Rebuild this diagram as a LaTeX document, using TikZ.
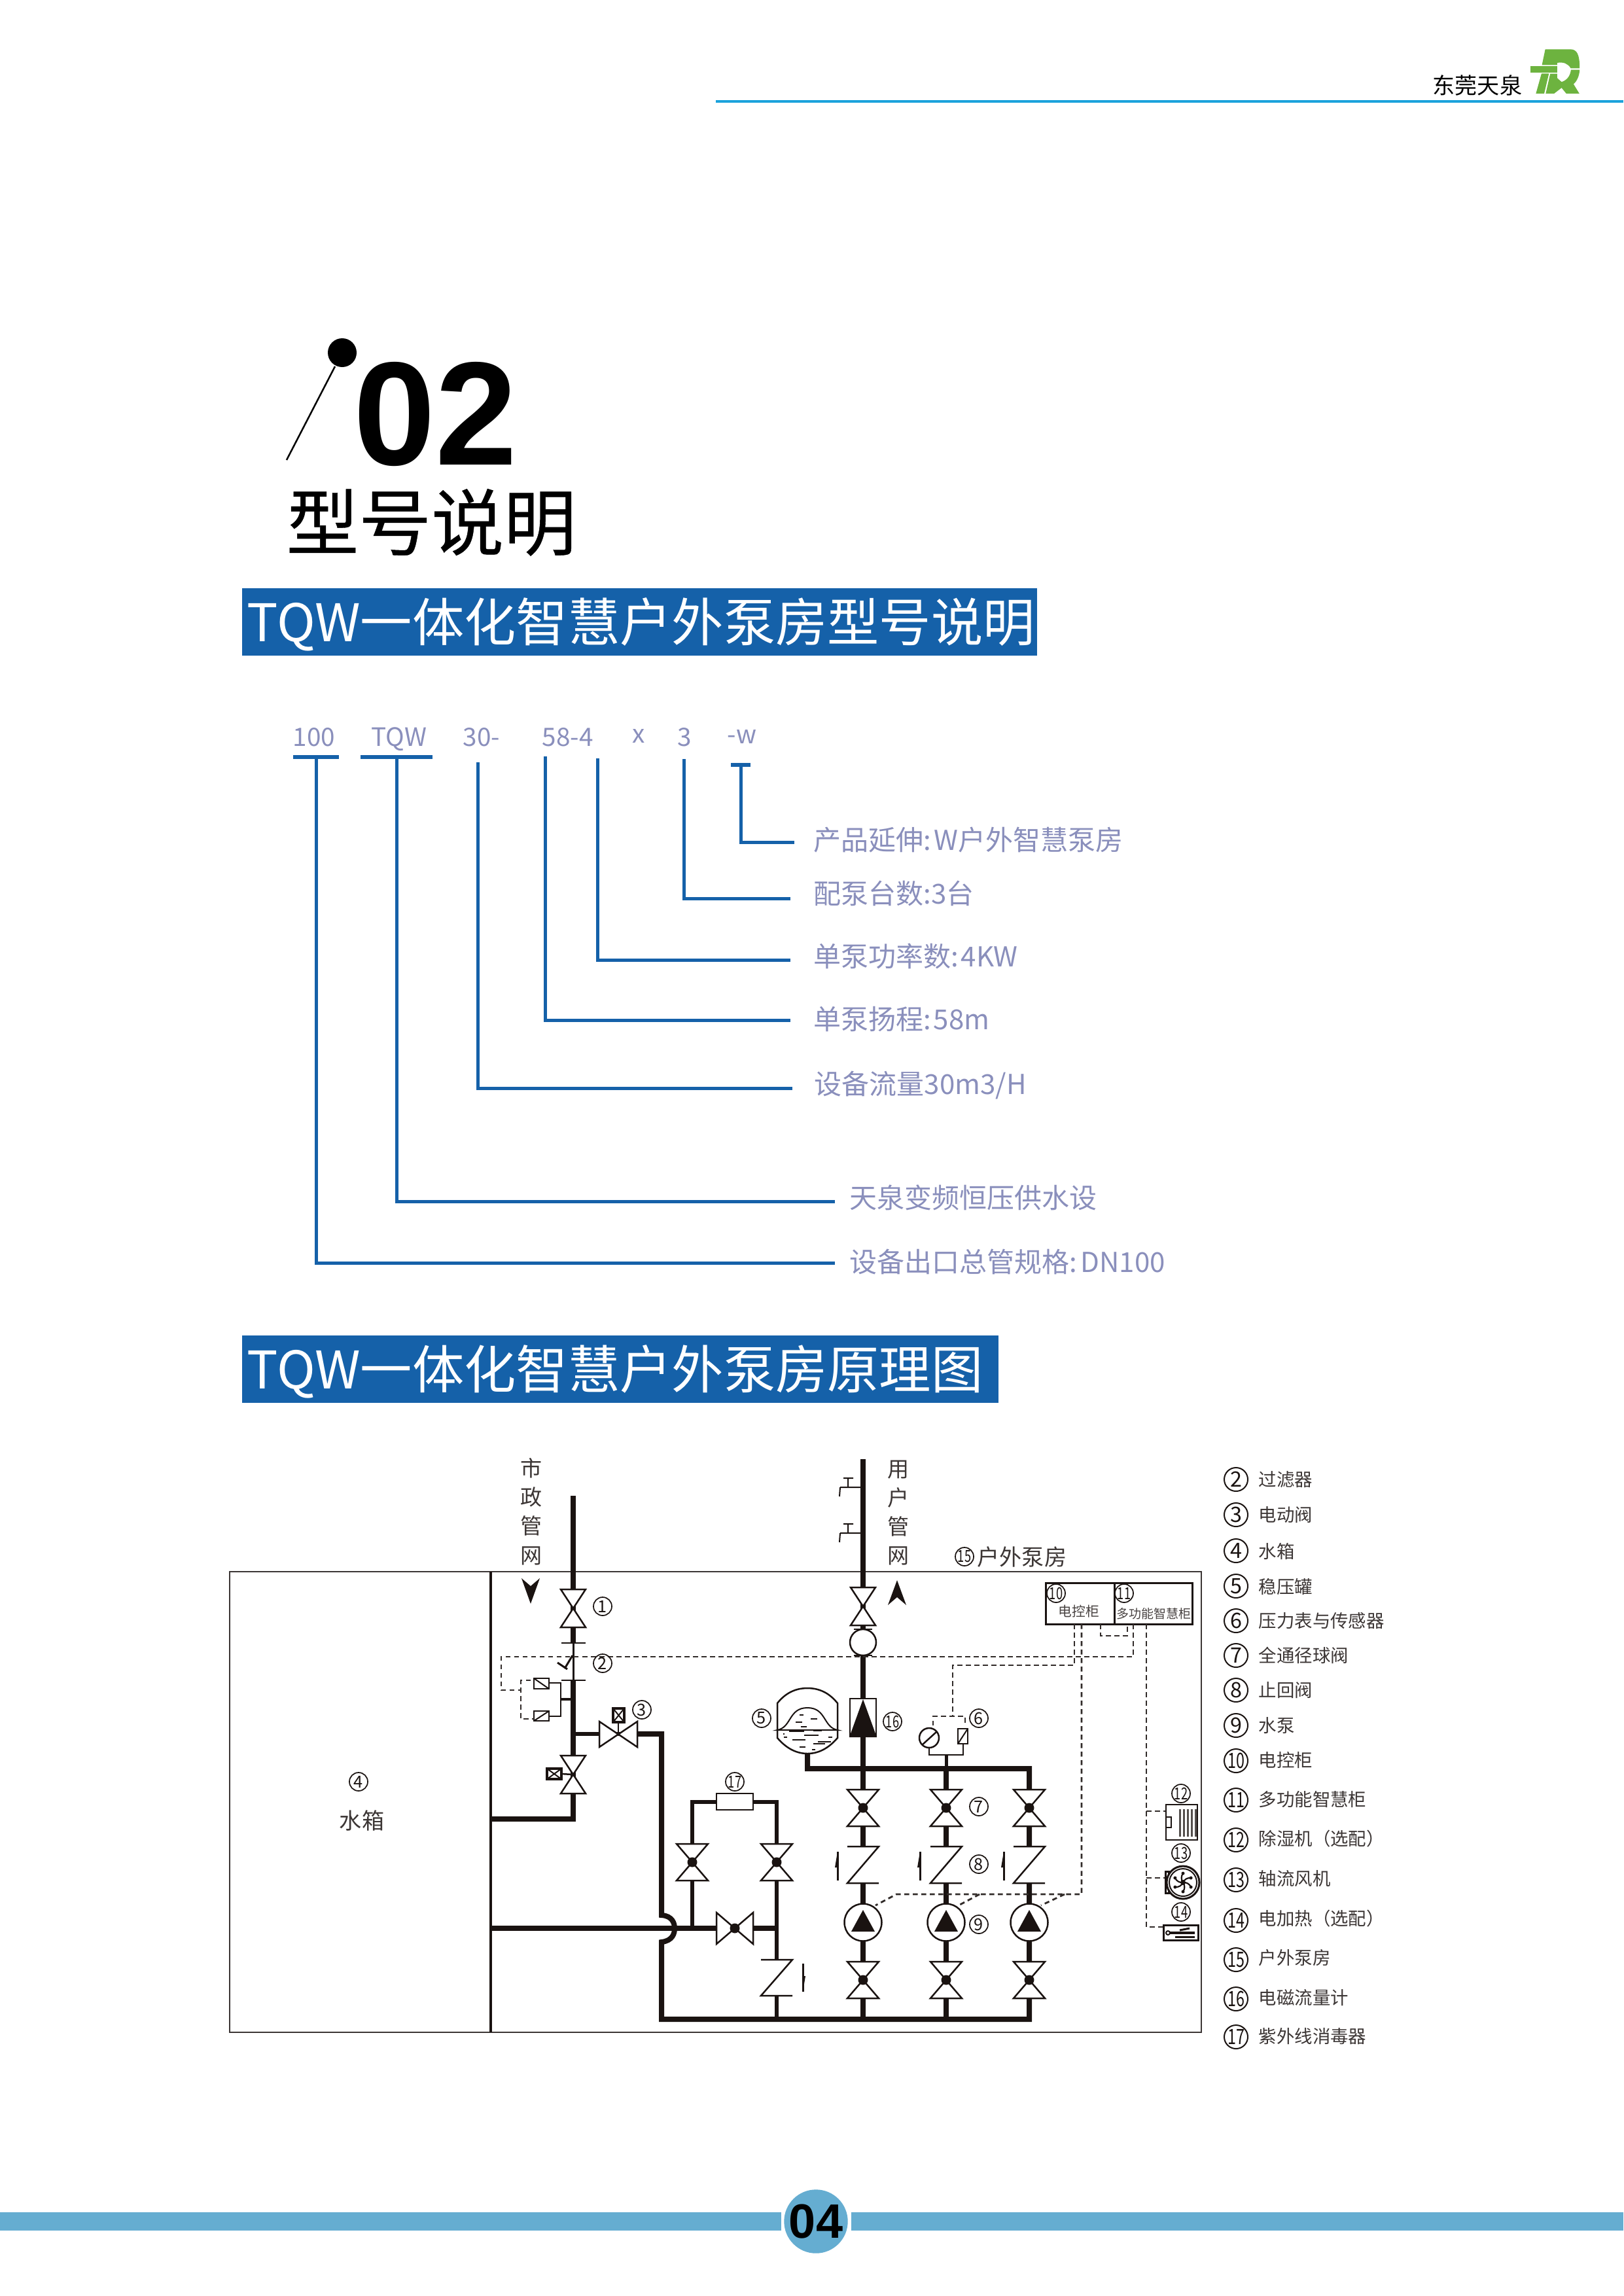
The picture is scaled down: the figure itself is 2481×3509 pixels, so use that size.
\documentclass[tikz,border=0pt]{standalone}
\usepackage{fontspec}
\usepackage{graphicx}
\setmainfont{Noto Sans CJK SC}
\newfontfamily\chapfont[FakeBold=0.4]{Noto Sans CJK SC}
\newfontfamily\pagefont{Liberation Sans}
\usetikzlibrary{calc}
\definecolor{bannerblue}{HTML}{1561A9}
\definecolor{labelpurple}{HTML}{8A8FBC}
\definecolor{headcyan}{HTML}{1BA2DC}
\definecolor{footblue}{HTML}{65ADD1}
\definecolor{logogreen}{HTML}{6DB33F}
\definecolor{pipeblack}{HTML}{1A1311}
\tikzset{
	bannertext/.style={anchor=base west, inner sep=0pt, text=white, font=\fontsize{22.55pt}{26pt}\selectfont},
	modeltop/.style={anchor=base west, inner sep=0pt, text=labelpurple, font=\fontsize{11pt}{13pt}\selectfont},
	modeltext/.style={anchor=base west, inner sep=0pt, text=labelpurple, font=\fontsize{11.95pt}{14pt}\selectfont},
	modelline/.style={color=bannerblue, line width=0.5mm},
	modelbar/.style={color=bannerblue, line width=0.65mm},
	frameline/.style={color=pipeblack!85, line width=0.27mm},
	pipe/.style={color=pipeblack, line width=0.8mm},
	thinpipe/.style={color=pipeblack, line width=0.55mm},
	valveline/.style={color=pipeblack, fill=white, line width=0.25mm},
	ctrlline/.style={color=pipeblack!90, line width=0.28mm, dash pattern=on 0.75mm off 0.55mm},
	numtag/.style={circle, draw=pipeblack, line width=0.17mm, minimum size=0.28cm, inner sep=0pt, text=pipeblack, font=\fontsize{7.2pt}{8pt}\selectfont},
	legendtag/.style={circle, draw=pipeblack, line width=0.2mm, minimum size=0.36cm, inner sep=0pt, text=pipeblack, font=\fontsize{9.2pt}{10pt}\selectfont},
	legendtext/.style={anchor=base west, inner sep=0pt, text=pipeblack!85, font=\fontsize{7.8pt}{9pt}\selectfont},
	pipetext/.style={align=center, inner sep=0pt, text=pipeblack!85, font=\fontsize{9.4pt}{12.6pt}\selectfont}
}
\def\nn#1{\scalebox{0.72}[1]{#1}}
\def\ballvalve(#1,#2){\draw[valveline] (#1-24,#2-28) -- (#1+24,#2-28) -- (#1-24,#2+28) -- (#1+24,#2+28) -- cycle; \fill[pipeblack] (#1,#2) circle (7.5);}
\def\sideball(#1,#2){\draw[valveline] (#1-28,#2-24) -- (#1-28,#2+24) -- (#1+28,#2-24) -- (#1+28,#2+24) -- cycle; \fill[pipeblack] (#1,#2) circle (7.5);}
\def\gatevalve(#1,#2){\draw[valveline] (#1-19,#2-29) -- (#1+19,#2-29) -- (#1-19,#2+29) -- (#1+19,#2+29) -- cycle;}
\def\checkvalve(#1,#2,#3){\fill[white] (#1-24,#2) rectangle (#1+24,#3); \draw[valveline, fill=none] (#1-24,#2) -- (#1+24,#2) -- (#1-24,#3) -- (#1+24,#3);}
\def\pumpunit(#1,#2){\draw[valveline] (#1,#2) circle (28.5); \fill[pipeblack] (#1,#2-19) -- (#1+18,#2+14) -- (#1-18,#2+14) -- cycle;}
\def\flowup(#1,#2,#3){\draw[color=pipeblack, line width=0.3mm] (#1,#2) -- (#1,#3); \fill[pipeblack] (#1,#2) -- (#1-4,#2+24) -- (#1,#2+24) -- cycle;}
\def\actbox(#1,#2)(#3,#4){\draw[color=pipeblack, fill=white, line width=0.35mm] (#1,#2) rectangle (#3,#4); \draw[color=pipeblack, line width=0.2mm] (#1,#2) -- (#3,#4) (#1,#4) -- (#3,#2);}

\begin{document}
\begin{tikzpicture}[x=0.01cm,y=-0.01cm]
	%%%%% START %%%%%
	\useasboundingbox (0,0) rectangle (2481,3509);
	
	% page head
	\draw[color=headcyan, line width=0.45mm] (1094,155) -- (2481,155);
	\node[inner sep=0pt, anchor=base west, text=black, font=\fontsize{9.7pt}{11pt}\selectfont] (headname) at (2189,144) {东莞天泉};
	\begin{scope}[shift={(2330,66)}, x=0.00333cm, y=-0.00333cm]
		\fill[logogreen] (28,105) -- (150,105) -- (150,135) -- (28,135) -- cycle;
		\fill[logogreen] (95,28) -- (210,28) .. controls (240,28) and (253,50) .. (253,115) -- (212,115) .. controls (200,95) and (180,85) .. (150,90) -- (150,100) -- (80,100) -- cycle;
		\fill[logogreen] (78,139) -- (112,139) -- (90,232) -- (52,232) -- cycle;
		\fill[logogreen] (118,140) -- (150,140) -- (150,160) -- (170,178) .. controls (195,170) and (210,150) .. (213,122) -- (253,122) .. controls (252,150) and (240,175) .. (225,188) -- (252,232) -- (192,232) -- (170,205) -- (135,232) -- (97,232) -- cycle;
	\end{scope}
	
	% chapter mark
	\fill[black] (523,539) circle (22);
	\draw[color=black, line width=0.25mm] (438,703) -- (512,560);
	\node[anchor=base west, inner sep=0pt, font=\pagefont\bfseries\fontsize{64pt}{70pt}\selectfont] (chapnum) at (540,710) {02};
	\node[anchor=base west, inner sep=0pt, font=\chapfont\fontsize{31.5pt}{34pt}\selectfont] (chaptitle) at (437,840) {型号说明};
	
	% model code
	\fill[bannerblue] (370,899) rectangle (1585,1002);
	\node[bannertext] (banner1) at (377,980) {TQW一体化智慧户外泵房型号说明};
	
	\node[modeltop] (c100) at (447,1140) {100};
	\node[modeltop] (ctqw) at (567,1140) {TQW};
	\node[modeltop] (c30) at (707,1140) {30-};
	\node[modeltop] (c58) at (828,1140) {58-4};
	\node[modeltop] (cx) at (966,1135) {x};
	\node[modeltop] (c3) at (1035,1140) {3};
	\node[modeltop] (cw) at (1111,1136) {-w};
	
	\node[modeltext] (t1) at (1243,1299) {产品延伸:\hspace{0.09em}W户外智慧泵房};
	\node[modeltext] (t2) at (1243,1381) {配泵台数:3台};
	\node[modeltext] (t3) at (1243,1477) {单泵功率数:\hspace{0.08em}4KW};
	\node[modeltext] (t4) at (1243,1573) {单泵扬程:\hspace{0.08em}58m};
	\node[modeltext] (t5) at (1244,1672) {设备流量30m3/H};
	\node[modeltext] (t6) at (1298,1846) {天泉变频恒压供水设};
	\node[modeltext] (t7) at (1298,1944) {设备出口总管规格:\hspace{0.12em}DN100};
	
	\coordinate (b1) at (1132,1169);
	\coordinate (e1) at (1214,1287);
	\coordinate (b2) at (1045,1160);
	\coordinate (e2) at (1208,1373);
	\coordinate (b3) at (913,1159);
	\coordinate (e3) at (1208,1467);
	\coordinate (b4) at (833,1156);
	\coordinate (e4) at (1208,1559);
	\coordinate (b5) at (730,1165);
	\coordinate (e5) at (1211,1663);
	\coordinate (b6) at (606,1157);
	\coordinate (e6) at (1276,1836);
	\coordinate (b7) at (483,1157);
	\coordinate (e7) at (1276,1930);
	\draw[modelbar] (1117,1169) -- (1147,1169);
	\draw[modelbar] (551,1157) -- (661,1157);
	\draw[modelbar] (448,1157) -- (518,1157);
	\draw[modelline] (b1) |- (e1);
	\draw[modelline] (b2) |- (e2);
	\draw[modelline] (b3) |- (e3);
	\draw[modelline] (b4) |- (e4);
	\draw[modelline] (b5) |- (e5);
	\draw[modelline] (b6) |- (e6);
	\draw[modelline] (b7) |- (e7);
	
	% pump room diagram
	\fill[bannerblue] (370,2041) rectangle (1526,2144);
	\node[bannertext] (banner2) at (377,2122) {TQW一体化智慧户外泵房原理图};
	
	\draw[frameline] (351,2402) rectangle (1836,3106);
	\draw[color=pipeblack, line width=0.35mm] (750,2402) -- (750,3106);
	
	% pipes
	\draw[pipe] (876,2286) -- (876,2511);
	\draw[color=pipeblack, line width=0.3mm] (876,2511) -- (876,2568);
	\draw[pipe] (876,2568) -- (876,2780) -- (750,2780);
	\draw[thinpipe] (876,2650) -- (974,2650);
	\draw[pipe] (974,2650) -- (1011,2650) -- (1011,2927) .. controls (1028,2928) and (1031,2940) .. (1031,2947) .. controls (1031,2955) and (1028,2966) .. (1011,2968) -- (1011,3086) -- (1573,3086) -- (1573,2703) -- (1234,2703) -- (1234,2680);
	\draw[pipe] (1319,2230) -- (1319,3086);
	\draw[pipe] (1446,2703) -- (1446,3086);
	\draw[pipe] (750,2947) -- (1187,2947);
	\draw[color=pipeblack, line width=0.65mm] (1058,2947) -- (1058,2754) -- (1187,2754) -- (1187,3086);
	\draw[color=pipeblack, line width=0.4mm] (876,2597) -- (857,2597);
	
	% inlet side
	\gatevalve(876,2458);
	\draw[color=pipeblack, line width=0.25mm] (858,2511) -- (895,2511);
	\draw[color=pipeblack, line width=0.25mm] (858,2568) -- (895,2568);
	\draw[color=pipeblack, line width=0.3mm] (875,2530) -- (863,2550);
	\draw[color=pipeblack, line width=0.3mm] (852,2541) -- (867,2551);
	\gatevalve(876,2712);
	\draw[color=pipeblack, line width=0.25mm] (876,2712) -- (858,2711);
	\actbox(836,2703)(858,2719);
	\draw[valveline] (916,2631) -- (916,2670) -- (974,2631) -- (974,2670) -- cycle;
	\draw[color=pipeblack, line width=0.25mm] (945,2650) -- (945,2632);
	\actbox(937,2611)(954,2632);
	\draw[color=pipeblack, line width=0.2mm] (839,2572) -- (857,2572) -- (857,2623) -- (839,2623);
	\draw[valveline] (816,2565) rectangle (839,2581);
	\draw[color=pipeblack, line width=0.2mm] (816,2565) -- (839,2581);
	\draw[valveline] (816,2615) rectangle (839,2630);
	\draw[color=pipeblack, line width=0.2mm] (816,2630) -- (839,2615);
	
	% outlet side
	\draw[color=pipeblack, line width=0.2mm] (1289,2259) -- (1304,2259) (1296,2259) -- (1296,2273) (1284,2273) -- (1316,2273) (1284,2273) -- (1283,2287);
	\draw[color=pipeblack, line width=0.2mm] (1289,2329) -- (1304,2329) (1296,2329) -- (1296,2343) (1284,2343) -- (1316,2343) (1284,2343) -- (1283,2357);
	\gatevalve(1319,2455);
	\draw[valveline] (1319,2510) circle (20);
	\draw[color=pipeblack, line width=0.25mm] (1305,2490) -- (1333,2490) (1305,2530) -- (1333,2530);
	\draw[valveline] (1299,2596) rectangle (1339,2654);
	\fill[pipeblack] (1319,2597) -- (1340,2655) -- (1298,2655) -- cycle;
	
	% tank
	\draw[valveline] (1188,2656) -- (1188,2603) .. controls (1200,2588) and (1215,2580) .. (1234,2580) .. controls (1253,2580) and (1268,2588) .. (1280,2603) -- (1280,2656) .. controls (1268,2670) and (1253,2680) .. (1234,2680) .. controls (1215,2680) and (1200,2670) .. (1188,2656) -- cycle;
	\draw[color=pipeblack, line width=0.2mm] (1188,2644) .. controls (1210,2640) and (1205,2610) .. (1234,2610) .. controls (1263,2610) and (1258,2640) .. (1280,2644) -- cycle;
	\draw[color=pipeblack, line width=0.2mm] (1222,2621) -- (1228,2621) (1239,2627) -- (1249,2627) (1216,2632) -- (1226,2632) (1224,2639) -- (1233,2639) (1206,2646) -- (1229,2646) (1243,2645) -- (1256,2645) (1229,2652) -- (1251,2652) (1197,2650) -- (1199,2650) (1198,2655) -- (1203,2655) (1211,2659) -- (1231,2659) (1250,2662) -- (1270,2662) (1243,2665) -- (1261,2665) (1222,2670) -- (1231,2670) (1241,2674) -- (1246,2674) (1266,2655) -- (1272,2655);
	
	% gauge and sensor
	\draw[color=pipeblack, line width=0.25mm] (1420,2671) -- (1420,2682) -- (1472,2682) -- (1472,2665);
	\draw[color=pipeblack, line width=0.5mm] (1446,2682) -- (1446,2703);
	\draw[valveline] (1420,2656) circle (15);
	\draw[color=pipeblack, line width=0.25mm] (1409,2667) -- (1431,2647);
	\draw[valveline] (1464,2642) rectangle (1479,2665);
	\draw[color=pipeblack, line width=0.2mm] (1464,2665) -- (1479,2642);
	
	% pump rows
	\ballvalve(1319,2763);
	\ballvalve(1446,2763);
	\ballvalve(1573,2763);
	\checkvalve(1319,2822,2878);
	\checkvalve(1446,2822,2878);
	\checkvalve(1573,2822,2878);
	\pumpunit(1319,2938);
	\pumpunit(1446,2938);
	\pumpunit(1573,2938);
	\ballvalve(1319,3026);
	\ballvalve(1446,3026);
	\ballvalve(1573,3026);
	\flowup(1280,2830,2874);
	\flowup(1406,2830,2874);
	\flowup(1534,2830,2874);
	
	% bypass
	\draw[valveline] (1095,2741) rectangle (1151,2766);
	\ballvalve(1058,2846);
	\ballvalve(1187,2846);
	\sideball(1123,2947);
	\checkvalve(1187,2995,3050);
	\draw[color=pipeblack, line width=0.3mm] (1227,3001) -- (1227,3044);
	\fill[pipeblack] (1227,3044) -- (1231,3020) -- (1227,3020) -- cycle;
	
	% cabinets
	\draw[color=pipeblack, line width=0.3mm] (1598,2419) rectangle (1822,2482);
	\draw[color=pipeblack, line width=0.3mm] (1703,2419) -- (1703,2482);
	\node[inner sep=0pt, text=pipeblack!80, font=\fontsize{5.9pt}{7pt}\selectfont] (box10) at (1649,2463) {电控柜};
	\node[inner sep=0pt, text=pipeblack!80, font=\fontsize{5.4pt}{6pt}\selectfont] (box11) at (1763,2466) {多功能智慧柜};
	
	% control lines
	\draw[ctrlline] (1732,2482) -- (1732,2532) -- (766,2532) -- (766,2583) -- (796,2583);
	\draw[ctrlline] (811,2568) -- (796,2568) -- (796,2627) -- (816,2627);
	\draw[ctrlline] (1642,2482) -- (1642,2545) -- (1456,2545) -- (1456,2622);
	\draw[ctrlline] (1426,2637) -- (1426,2623) -- (1475,2623) -- (1475,2637);
	\draw[ctrlline] (1653,2482) -- (1653,2895) -- (1370,2895) -- (1338,2912);
	\draw[ctrlline] (1497,2895) -- (1465,2912);
	\draw[ctrlline] (1627,2895) -- (1591,2912);
	\draw[ctrlline] (1682,2482) -- (1682,2500) -- (1723,2500) -- (1723,2482);
	\draw[ctrlline] (1752,2482) -- (1752,2945) -- (1778,2945);
	\draw[ctrlline] (1752,2768) -- (1782,2768);
	\draw[ctrlline] (1752,2870) -- (1782,2870);
	
	% room equipment
	\draw[color=pipeblack, fill=white, line width=0.25mm] (1782,2758) rectangle (1830,2812);
	\draw[color=pipeblack, line width=0.2mm] (1782,2777) rectangle (1790,2793);
	\fill[pipeblack!75] (1802,2765) rectangle (1805,2807);
	\fill[pipeblack!75] (1808,2765) rectangle (1811,2807);
	\fill[pipeblack!75] (1814,2765) rectangle (1817,2807);
	\fill[pipeblack!75] (1820,2765) rectangle (1823,2807);
	\fill[pipeblack!75] (1826,2765) rectangle (1829,2807);
	
	\coordinate (fan) at (1808,2877);
	\draw[color=pipeblack, line width=0.3mm] (1781,2860) rectangle (1786,2893);
	\draw[color=pipeblack, fill=white, line width=0.3mm] (fan) circle (25);
	\draw[color=pipeblack, line width=0.2mm] (fan) circle (21);
	\draw[color=pipeblack, line width=0.22mm] (fan) to[bend left=35] ++(30:14) (fan) to[bend left=35] ++(90:14) (fan) to[bend left=35] ++(150:14) (fan) to[bend left=35] ++(210:14) (fan) to[bend left=35] ++(270:14) (fan) to[bend left=35] ++(330:14);
	\fill[pipeblack] (fan) ++(30:14) circle (2.5) (fan) ++(90:14) circle (2.5) (fan) ++(150:14) circle (2.5) (fan) ++(210:14) circle (2.5) (fan) ++(270:14) circle (2.5) (fan) ++(330:14) circle (2.5);
	\fill[pipeblack] (fan) circle (4);
	
	\draw[color=pipeblack, fill=white, line width=0.3mm] (1778,2942) rectangle (1831,2965);
	\draw[color=pipeblack, line width=0.2mm] (1785,2954) circle (3);
	\draw[color=pipeblack, line width=0.4mm] (1788,2954) -- (1826,2954);
	\draw[color=pipeblack, line width=0.3mm] (1803,2950) -- (1818,2947);
	\draw[color=pipeblack, line width=0.3mm] (1796,2960) -- (1826,2960);
	
	% pipe labels
	\node[pipetext] (citynet) at (812,2310) {市\\政\\管\\网};
	\fill[pipeblack] (797,2412) -- (811,2424) -- (825,2412) -- (811,2451) -- cycle;
	\node[pipetext] (usernet) at (1373,2312) {用\\户\\管\\网};
	\fill[pipeblack] (1371,2415) -- (1357,2453) -- (1371,2441) -- (1385,2453) -- cycle;
	\node[inner sep=0pt, anchor=base west, text=pipeblack!85, font=\fontsize{9.7pt}{11pt}\selectfont] (roomname) at (1493,2392) {户外泵房};
	\node[inner sep=0pt, text=pipeblack!85, font=\fontsize{9.7pt}{11pt}\selectfont] (tankname) at (553,2782) {水箱};
	
	% number tags
	\node[numtag] (n1) at (921,2455) {1};
	\node[numtag] (n2) at (921,2542) {2};
	\node[numtag] (n3) at (981,2613) {3};
	\node[numtag] (n4) at (548,2723) {4};
	\node[numtag] (n5) at (1164,2626) {5};
	\node[numtag] (n6) at (1496,2626) {6};
	\node[numtag] (n7) at (1496,2761) {7};
	\node[numtag] (n8) at (1496,2849) {8};
	\node[numtag] (n9) at (1496,2941) {9};
	\node[numtag] (n10) at (1614,2435) {\nn{10}};
	\node[numtag] (n11) at (1718,2435) {\nn{11}};
	\node[numtag] (n12) at (1805,2741) {\nn{12}};
	\node[numtag] (n13) at (1805,2832) {\nn{13}};
	\node[numtag] (n14) at (1805,2922) {\nn{14}};
	\node[numtag] (n15) at (1474,2379) {\nn{15}};
	\node[numtag] (n16) at (1364,2631) {\nn{16}};
	\node[numtag] (n17) at (1123,2723) {\nn{17}};
	
	% legend
	\node[legendtag] (l2) at (1889,2261) {2};
	\node[legendtext] (x2) at (1923,2271) {过滤器};
	\node[legendtag] (l3) at (1889,2315) {3};
	\node[legendtext] (x3) at (1923,2325) {电动阀};
	\node[legendtag] (l4) at (1889,2370) {4};
	\node[legendtext] (x4) at (1923,2381) {水箱};
	\node[legendtag] (l5) at (1889,2424) {5};
	\node[legendtext] (x5) at (1923,2435) {稳压罐};
	\node[legendtag] (l6) at (1889,2477) {6};
	\node[legendtext] (x6) at (1923,2487) {压力表与传感器};
	\node[legendtag] (l7) at (1889,2530) {7};
	\node[legendtext] (x7) at (1923,2540) {全通径球阀};
	\node[legendtag] (l8) at (1889,2583) {8};
	\node[legendtext] (x8) at (1923,2593) {止回阀};
	\node[legendtag] (l9) at (1889,2637) {9};
	\node[legendtext] (x9) at (1923,2647) {水泵};
	\node[legendtag] (l10) at (1889,2691) {\nn{10}};
	\node[legendtext] (x10) at (1923,2700) {电控柜};
	\node[legendtag] (l11) at (1889,2751) {\nn{11}};
	\node[legendtext] (x11) at (1923,2760) {多功能智慧柜};
	\node[legendtag] (l12) at (1889,2812) {\nn{12}};
	\node[legendtext] (x12) at (1923,2820) {除湿机（选配）};
	\node[legendtag] (l13) at (1889,2873) {\nn{13}};
	\node[legendtext] (x13) at (1923,2881) {轴流风机};
	\node[legendtag] (l14) at (1889,2935) {\nn{14}};
	\node[legendtext] (x14) at (1923,2942) {电加热（选配）};
	\node[legendtag] (l15) at (1889,2995) {\nn{15}};
	\node[legendtext] (x15) at (1923,3002) {户外泵房};
	\node[legendtag] (l16) at (1889,3055) {\nn{16}};
	\node[legendtext] (x16) at (1923,3063) {电磁流量计};
	\node[legendtag] (l17) at (1889,3113) {\nn{17}};
	\node[legendtext] (x17) at (1923,3122) {紫外线消毒器};
	
	% page foot
	\fill[footblue] (0,3381) rectangle (1194,3409);
	\fill[footblue] (1301,3381) rectangle (2481,3409);
	\fill[footblue] (1247,3395) circle (48.7);
	\node[inner sep=0pt, text=black, font=\pagefont\bfseries\fontsize{21pt}{24pt}\selectfont] (pagenum) at (1247,3395) {04};
	
	%%%%% END %%%%%
\end{tikzpicture}
\end{document}
